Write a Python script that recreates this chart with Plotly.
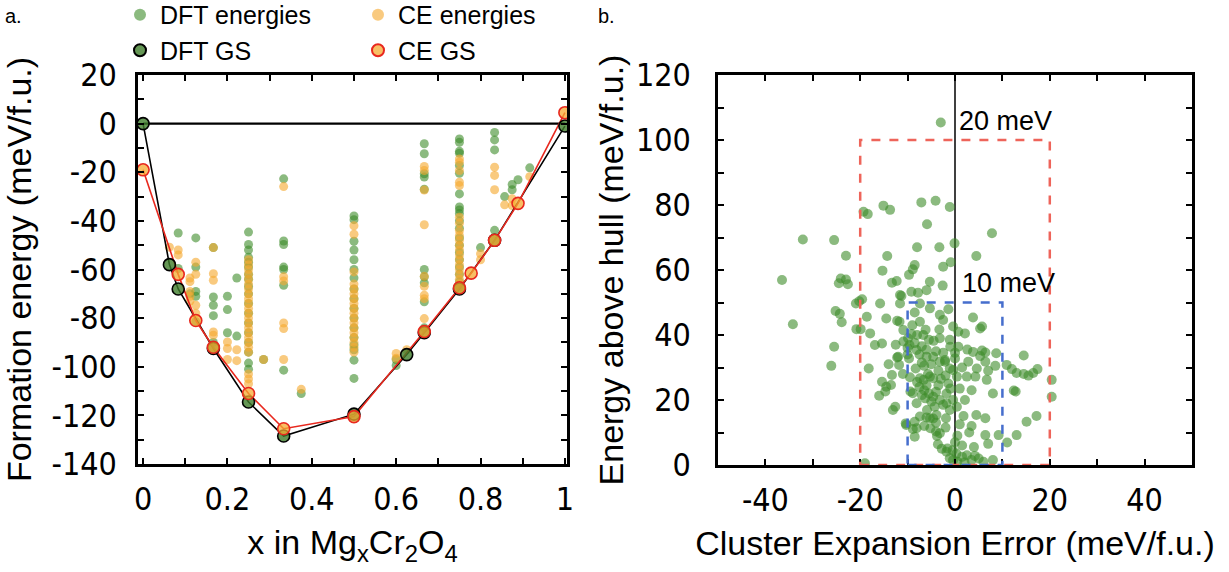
import plotly.graph_objects as go

# ---------------- Panel a: formation energies ----------------
dft_x = ([1/12] * 2 + [1/9] + [1/8] * 5 + [1/6] * 5 + [0.2] * 3 + [2/9] * 2 +
         [0.25] * 18 + [2/7] + [1/3] * 7 + [0.375] + [0.5] * 17 + [0.6] * 2 +
         [2/3] * 10 + [0.75] * 20 + [0.8] + [5/6] * 4 + [6/7] + [0.875] * 2 +
         [8/9] + [11/12])
dft_y = ([-45, -59.6] + [-70] + [-47, -59, -69, -71, -81.5] + [-51, -71.3, -74.7, -79, -90] +
         [-71, -76.5, -86] + [-63.5, -87.4] +
         [-44.6, -49.7, -52, -55, -57, -59, -62, -64, -67, -70, -74, -78, -82, -86, -90, -94, -98.5, -101] +
         [-97] + [-22.7, -48.3, -49.7, -59, -60, -66.5, -101.4] + [-111] +
         [-38, -39.5, -48.4, -52, -56, -60, -63.5, -68, -72, -76, -80, -84, -88, -91, -93, -97.3, -104.8] +
         [-97, -99.5] +
         [-8.3, -12.4, -20.6, -22, -27, -60, -63, -65.5, -73.3, -84] +
         [-6.3, -7.7, -11.4, -12.2, -17.2, -20.4, -28.9, -34.3, -35.5, -37, -40, -43, -47, -50, -53, -56, -59, -62, -65, -67.2] +
         [-51] + [-3.6, -6.7, -10.8, -43.9] + [-30] + [-25, -27.2] + [-23.1] + [-18.2])

ce_x = ([1/16] + [1/12] * 2 + [1/9] * 5 + [1/8] * 4 + [1/6] * 5 + [0.2] * 3 + [2/9] * 2 +
        [0.25] * 23 + [2/7] + [1/3] * 6 + [0.375] + [0.5] * 18 + [0.6] * 2 + [0.625] +
        [2/3] * 9 + [0.75] * 19 + [0.8] * 2 + [5/6] * 3 + [6/7] + [0.875] * 2 + [11/12])
ce_y = ([-50.8] + [-52, -54] + [-63.5, -65, -69, -71, -73] + [-57, -62, -74.7, -78] +
        [-51, -61.7, -64.4, -85.7, -87] + [-89.8, -92.5, -97] + [-93, -97.5] +
        [-56, -58, -60, -62, -64, -66, -68, -70, -72, -74, -76, -78, -80, -82, -84, -86, -88, -90, -92, -94, -103, -105, -107] +
        [-97] + [-25.9, -63, -64.7, -82, -84.3, -97] + [-109.3] +
        [-42, -45.5, -61, -66, -68, -70, -72, -74, -76, -78, -80, -82, -84, -86, -88, -90, -92, -94] +
        [-94.5, -96.5] + [-93] +
        [-17.6, -19.3, -27.3, -41.6, -62.8, -66.9, -70.6, -72, -80.2] +
        [-14.5, -15.9, -19.3, -24.1, -25.5, -38.5, -41, -44, -46, -48, -50, -52, -54, -56, -58, -60, -62, -64, -65.8] +
        [-53.5, -56] + [-17.9, -21.3, -27.2] + [-33.4] + [-30.9, -33.7] + [-21.8])

dft_gs_x = [0, 1/16, 1/12, 1/6, 1/4, 1/3, 1/2, 5/8, 2/3, 3/4, 5/6, 1]
dft_gs_y = [0, -58, -68, -92.5, -114.5, -128.5, -119.5, -95, -86, -68, -48, -1]

ce_gs_x = [0, 1/12, 1/8, 1/6, 1/4, 1/3, 1/2, 2/3, 3/4, 7/9, 5/6, 8/9, 1]
ce_gs_y = [-19, -62, -81, -92, -111, -125.5, -120.5, -85.5, -67.5, -61.5, -48, -32.8, 4.5]

zero_line_x = [0, 1]
zero_line_y = [0, 0]

xa_ticks = [0, 0.2, 0.4, 0.6, 0.8, 1]
xa_labels = ["0", "0.2", "0.4", "0.6", "0.8", "1"]
xa_minor = [0.1, 0.3, 0.5, 0.7, 0.9]
ya_ticks = [-140, -120, -100, -80, -60, -40, -20, 0, 20]
ya_labels = ["-140", "-120", "-100", "-80", "-60", "-40", "-20", "0", "20"]
ya_minor = [-130, -110, -90, -70, -50, -30, -10, 10]

# ---------------- Panel b: CE error vs energy above hull ----------------
ce_error = [
    -3.0, -19.3, -18.4, -15.1, -13.7, -7.1, -4.1, -1.1, -5.9, 7.8, -32.1, -25.5, -0.1, -3.3, -8.0,
    -23.0, -14.3, 4.5, -8.5, -0.9, -2.5, -8.9, -15.3, -9.7, -36.5, -24.1, -23.0, -22.6, -24.5, -13.3,
    -12.3, -5.3, -2.6, -6.0, -11.3, -9.2, -7.8, -11.6, -20.9, -20.2, -19.6, -15.8, -11.6, -7.4, -5.3,
    -1.4, -3.2, -8.5, -25.2, -24.3, -23.9, -18.6, -14.5, -12.2, -11.7, -7.4, -2.5, 3.8, -34.2, -20.8,
    -19.9, -17.9, -10.9, -6.2, -3.3, -0.4, 0.7, 2.1, 5.7, 5.3, -9.9, -10.9, -8.0, -9.2, -6.7,
    -5.5, -4.5, -3.2, -1.1, -25.5, -16.9, -15.4, -9.6, -8.1, -1.0, 0.7, 2.6, 3.8, 5.7, 6.4,
    8.7, 0.0, 14.5, -26.1, -18.2, -12.2, -11.8, -12.0, -9.7, -6.0, -4.6, -10.0, -7.5, 0.0, 2.8,
    -3.2, -2.1, 5.3, 6.4, -2.1, -0.4, 4.6, -1.1, -8.3, -6.5, 10.9, 12.0, 13.0, 14.5, 16.5,
    17.4, 15.5, 20.4, -13.3, -7.4, -6.6, -5.3, -5.7, -4.6, 0.4, 2.5, 4.3, 6.7, -15.4, -13.5,
    -14.5, -1.4, -3.5, -7.5, -16.0, -14.7, -9.4, -8.9, -6.5, -4.0, -1.8, 8.0, 12.8, 12.4, 20.4,
    -8.1, -6.3, -5.0, -4.6, -3.2, -0.4, 2.1, -1.8, -12.6, -13.1, -1.1, 0.4, -5.9, -4.3, -7.4,
    -6.0, -4.6, -5.3, -3.9, -1.9, 1.8, 4.5, 6.4, 15.1, 17.2, -10.4, -8.9, -8.5, -10.3, -8.1,
    -5.2, -4.0, -3.2, -8.5, -3.8, 0.5, 3.0, 6.4, 9.2, 13.0, -3.6, -1.8, -2.8, -1.6, 1.5,
    4.0, 7.0, 11.0, -1.1, -0.4, 0.5, 1.5, 2.5, 3.5, 5.0, 6.0, 8.0, -19.0, -9.0, -10.0,
    -8.5, -7.0, -6.0, -4.0, -2.5, -7.0, -5.0, -3.5, -2.0, -9.5, -8.0, -6.0, -3.0, -1.0, -5.5,
    -7.0, -2.5, -4.0, -6.5, -2.0, 1.0, 3.5, 0.0, -0.5, 1.0, 3.5, 1.5, 8.5, 7.0, -12.5,
    -11.0, -14.0, 0.3, 2.0, 4.2,
]
e_above_hull = [
    105.4, 77.9, 77.2, 79.8, 78.5, 80.8, 81.3, 79.4, 74.1, 71.3, 69.4, 69.2, 68.2, 67.0, 67.0,
    64.4, 64.3, 64.3, 61.5, 62.4, 61.0, 60.2, 59.8, 58.5, 56.9, 57.4, 57.1, 55.6, 55.9, 56.1,
    56.6, 56.4, 55.2, 53.8, 52.0, 53.3, 53.0, 52.3, 49.7, 50.4, 51.0, 49.7, 49.7, 49.7, 48.2,
    47.9, 46.2, 46.9, 47.4, 46.5, 43.9, 45.6, 45.1, 44.4, 44.1, 44.1, 44.6, 45.4, 43.3, 41.8,
    41.8, 40.5, 41.5, 41.6, 41.7, 42.6, 41.0, 40.5, 42.6, 42.0, 39.0, 38.0, 40.0, 40.3, 40.0,
    38.5, 38.2, 39.0, 38.5, 36.4, 36.9, 37.4, 36.9, 35.4, 36.4, 36.4, 35.5, 34.8, 35.2, 34.6,
    34.4, 34.5, 33.7, 30.5, 29.7, 33.1, 30.8, 33.3, 32.8, 33.3, 33.3, 34.0, 34.0, 32.8, 31.8,
    31.8, 31.8, 33.5, 31.8, 32.3, 29.2, 29.7, 29.7, 29.7, 30.5, 30.8, 29.5, 28.3, 28.0, 28.3,
    29.5, 27.5, 26.2, 27.7, 26.7, 26.2, 27.2, 28.0, 26.7, 27.2, 27.2, 27.2, 26.2, 25.6, 24.6,
    24.1, 25.1, 24.5, 24.0, 21.3, 22.6, 22.6, 22.1, 23.0, 22.5, 22.0, 22.0, 22.6, 22.9, 21.0,
    19.0, 20.5, 19.5, 21.0, 20.0, 20.0, 20.0, 19.0, 17.9, 16.9, 16.9, 17.9, 16.9, 17.9, 14.9,
    14.6, 14.3, 14.4, 15.4, 14.4, 15.1, 15.4, 14.4, 13.3, 15.1, 12.8, 11.1, 13.3, 12.3, 11.3,
    11.3, 10.3, 9.8, 8.7, 8.9, 9.0, 10.0, 9.2, 9.2, 9.2, 6.4, 4.1, 5.0, 5.1, 6.0,
    5.5, 6.5, 6.9, 2.1, 1.5, 1.0, 2.5, 3.0, 1.5, 2.0, 1.0, 1.5, 0.5, 43.0, 36.0,
    37.5, 36.5, 35.5, 35.0, 34.5, 31.5, 31.0, 29.0, 27.5, 27.0, 25.5, 24.5, 26.5, 23.5, 22.0,
    21.5, 18.5, 13.0, 12.0, 11.5, 12.5, 12.0, 7.0, 4.5, 23.5, 23.0, 30.0, 30.5, 29.0, 37.0,
    28.0, 31.0, 3.5, 0.8, 2.8,
]

xb_ticks = [-40, -20, 0, 20, 40]
xb_labels = ["-40", "-20", "0", "20", "40"]
xb_minor = [-50, -30, -10, 10, 30, 50]
yb_ticks = [0, 20, 40, 60, 80, 100, 120]
yb_labels = ["0", "20", "40", "60", "80", "100", "120"]
yb_minor = [10, 30, 50, 70, 90, 110]

box_outer = (20, 100)   # +/- error (meV), height (meV)
box_inner = (10, 50)
label_outer = "20 meV"
label_inner = "10 meV"

# ---------------- styling ----------------
GREEN = "rgba(62,140,42,0.6)"
ORANGE = "rgba(246,170,48,0.62)"
RED = "rgb(232,40,30)"
TICK_FONT = dict(family="Liberation Sans Narrow, DejaVu Sans Condensed, Arial Narrow, sans-serif", size=32, color="black")
TITLE_FONT = dict(family="Liberation Sans, Arial, sans-serif", size=34, color="black")
LEG_FONT = dict(family="Liberation Sans, Arial, sans-serif", size=25, color="black")

fig = go.Figure()

fig.add_trace(go.Scatter(x=zero_line_x, y=zero_line_y, mode="lines", line=dict(color="black", width=2.2),
                         showlegend=False, hoverinfo="skip", xaxis="x", yaxis="y"))
fig.add_trace(go.Scatter(x=dft_x, y=dft_y, mode="markers", name="DFT energies",
                         marker=dict(color=GREEN, size=9), legend="legend", xaxis="x", yaxis="y"))
fig.add_trace(go.Scatter(x=ce_x, y=ce_y, mode="markers", name="CE energies",
                         marker=dict(color=ORANGE, size=9), legend="legend2", xaxis="x", yaxis="y"))
fig.add_trace(go.Scatter(x=dft_gs_x, y=dft_gs_y, mode="lines", line=dict(color="black", width=1.6),
                         showlegend=False, hoverinfo="skip", xaxis="x", yaxis="y"))
fig.add_trace(go.Scatter(x=ce_gs_x, y=ce_gs_y, mode="lines", line=dict(color=RED, width=1.6),
                         showlegend=False, hoverinfo="skip", xaxis="x", yaxis="y"))
fig.add_trace(go.Scatter(x=dft_gs_x, y=dft_gs_y, mode="markers", name="DFT GS",
                         marker=dict(color="rgba(62,125,42,0.8)", size=12, line=dict(color="black", width=1.6)),
                         legend="legend", xaxis="x", yaxis="y"))
fig.add_trace(go.Scatter(x=ce_gs_x, y=ce_gs_y, mode="markers", name="CE GS",
                         marker=dict(color="rgba(246,170,48,0.75)", size=12, line=dict(color=RED, width=1.6)),
                         legend="legend2", xaxis="x", yaxis="y"))

fig.add_trace(go.Scatter(x=ce_error, y=e_above_hull, mode="markers", showlegend=False,
                         marker=dict(color=GREEN, size=10), xaxis="x2", yaxis="y2"))

# reference lines / boxes in panel b
fig.add_shape(type="line", xref="x2", yref="y2", x0=0, x1=0, y0=yb_ticks[0], y1=yb_ticks[-1],
              line=dict(color="black", width=1.5), layer="below")
fig.add_shape(type="rect", xref="x2", yref="y2", x0=-box_outer[0], x1=box_outer[0], y0=0, y1=box_outer[1],
              line=dict(color="rgb(238,100,90)", width=2.5, dash="dash"))
fig.add_shape(type="rect", xref="x2", yref="y2", x0=-box_inner[0], x1=box_inner[0], y0=0, y1=box_inner[1],
              line=dict(color="rgb(70,110,205)", width=2.5, dash="dash"))

axis_common = dict(showline=True, linecolor="black", linewidth=2.5, mirror="ticks", ticks="inside",
                   ticklen=6, tickwidth=2, tickcolor="black", showgrid=False, zeroline=False,
                   tickfont=TICK_FONT, tickmode="array", title_font=TITLE_FONT, automargin=False)


def minor(vals):
    return dict(tickmode="array", tickvals=vals, ticks="inside", ticklen=6, tickwidth=2,
                tickcolor="black", showgrid=False)


W, H = 1229, 572
fig.update_layout(
    width=W, height=H, margin=dict(l=0, r=0, t=0, b=0, autoexpand=False),
    paper_bgcolor="white", plot_bgcolor="white",
    xaxis=dict(axis_common, domain=[138 / W, 567 / W], range=[-0.012, 1.005],
               tickvals=xa_ticks, ticktext=xa_labels, ticklabelstandoff=5, minor=minor(xa_minor),
               title=dict(text="x in Mg<sub>x</sub>Cr<sub>2</sub>O<sub>4</sub>", standoff=14), anchor="y"),
    yaxis=dict(axis_common, domain=[1 - 464 / H, 1 - 75 / H], range=[-140, 20],
               tickvals=ya_ticks, ticktext=ya_labels, ticklabelstandoff=12, minor=minor(ya_minor),
               title=dict(text="Formation energy (meV/f.u.)", standoff=28), anchor="x"),
    xaxis2=dict(axis_common, domain=[718 / W, 1192 / W], range=[-50, 50],
                tickvals=xb_ticks, ticktext=xb_labels, ticklabelstandoff=5, minor=minor(xb_minor),
                title=dict(text="Cluster Expansion Error (meV/f.u.)", standoff=14), anchor="y2"),
    yaxis2=dict(axis_common, domain=[1 - 465 / H, 1 - 75 / H], range=[0, 120],
                tickvals=yb_ticks, ticktext=yb_labels, ticklabelstandoff=18, minor=minor(yb_minor),
                title=dict(text="Energy above hull (meV/f.u.)", standoff=3), anchor="x2"),
    legend=dict(x=120 / W, y=1.014, xanchor="left", yanchor="top", bgcolor="rgba(0,0,0,0)",
                font=LEG_FONT, itemsizing="constant", tracegroupgap=0),
    legend2=dict(x=358 / W, y=1.014, xanchor="left", yanchor="top", bgcolor="rgba(0,0,0,0)",
                 font=LEG_FONT, itemsizing="constant", tracegroupgap=0),
    annotations=[
        dict(text="a.", xref="paper", yref="paper", x=3 / W, y=1 - 3 / H, xanchor="left", yanchor="top",
             showarrow=False, font=dict(family="Liberation Sans, Arial", size=20, color="black")),
        dict(text="b.", xref="paper", yref="paper", x=596 / W, y=1 - 3 / H, xanchor="left", yanchor="top",
             showarrow=False, font=dict(family="Liberation Sans, Arial", size=20, color="black")),
        dict(text=label_outer, xref="x2", yref="y2", x=0.5, y=106, xanchor="left", yanchor="middle",
             showarrow=False, font=dict(family="Liberation Sans, Arial", size=27, color="black")),
        dict(text=label_inner, xref="x2", yref="y2", x=1.0, y=56, xanchor="left", yanchor="middle",
             showarrow=False, font=dict(family="Liberation Sans, Arial", size=27, color="black")),
    ],
)

fig.write_html("out.html")
